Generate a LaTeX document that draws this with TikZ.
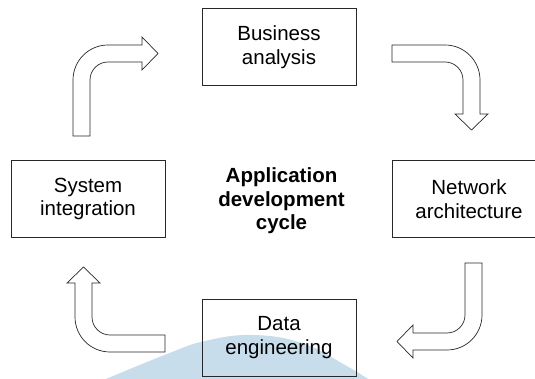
\documentclass[tikz,border=0pt]{standalone}
\usepackage{fontspec}
\setmainfont{Liberation Sans}
\definecolor{wmblue}{RGB}{200,221,236}
\definecolor{edge}{RGB}{40,40,40}
\tikzset{
  stagebox/.style={draw=edge, line width=0.9pt, fill=none, inner sep=0pt,
    minimum width=154pt, minimum height=77pt, align=center,
    font=\fontsize{20.5}{23.5}\selectfont},
  hub/.style={align=center, inner sep=0pt,
    font=\fontsize{20.5}{23.5}\selectfont\bfseries},
  bent/.style={draw=edge, line width=0.7pt, fill=white, line join=miter}
}
% Hollow bent arrow: shaft rises from (0,-#1) to the outer corner at the
% origin, then runs right and ends in a head; width 17, radii 35 / 18.
\newcommand\bentarrow[1]{%
  \draw[bent] (0,-#1) -- (0,-35)
    .. controls (0,-15.67) and (15.67,0) .. (35,0)
    -- (69,0) -- (69,8) -- (85,-8.5) -- (69,-25) -- (69,-17) -- (35,-17)
    .. controls (25.06,-17) and (17,-25.06) .. (17,-35)
    -- (17,-#1) -- cycle;}
\begin{document}
\begin{tikzpicture}[x=1pt,y=1pt]
  \clip (0,0) rectangle (535,379);
  \fill[white] (0,0) rectangle (535,379);
  % pale background swash along the bottom edge
  \fill[wmblue] plot[smooth, tension=0.7] coordinates
    {(106,0) (167,25) (205,38) (252,44) (302,36) (345,14) (368,0)} -- cycle;

  % stages of the cycle
  \node[stagebox] (ba) at (279,332) {Business\\analysis};
  \node[stagebox] (na) at (469,180) {Network\\architecture};
  \node[stagebox] (de) at (279,41.5) {Data\\engineering};
  \node[stagebox] (si) at (88,180) {System\\integration};
  \node[hub] (hub) at (281.5,178) {Application\\development\\cycle};

  % bent arrows between the stages (clockwise)
  \coordinate (c1) at (73,334);
  \coordinate (c2) at (480,334);
  \coordinate (c3) at (482,29);
  \coordinate (c4) at (75,27);
  \begin{scope}[shift={(c1)}]\bentarrow{91}\end{scope}
  \begin{scope}[shift={(c2)}, rotate=-90]\bentarrow{88}\end{scope}
  \begin{scope}[shift={(c3)}, rotate=180]\bentarrow{87}\end{scope}
  \begin{scope}[shift={(c4)}, rotate=90]\bentarrow{90}\end{scope}
\end{tikzpicture}
\end{document}
